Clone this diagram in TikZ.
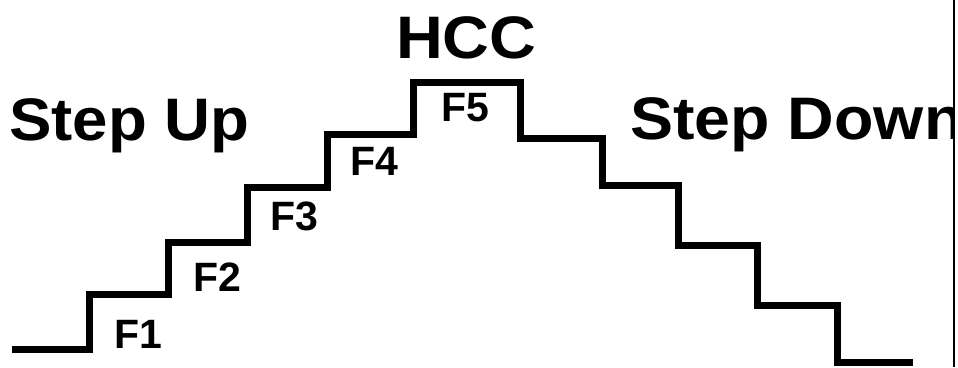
\documentclass[tikz,border=0pt]{standalone}
\usepackage{fontspec}
\setmainfont{Liberation Sans}[BoldFont={Liberation Sans Bold}]
\begin{document}
\begin{tikzpicture}[x=1pt,y=-1pt,
  stair/.style={line width=7pt,line join=miter,line cap=butt},
  biglabel/.style={font=\bfseries\fontsize{60}{66}\selectfont,inner sep=0pt,anchor=base west},
  flabel/.style={font=\bfseries\fontsize{41}{46}\selectfont,inner sep=0pt,anchor=center}]
\useasboundingbox (0,0) rectangle (958,367);
% stairs
\draw[stair] (12,349) -- (89,349) -- (89,294) -- (168,294) -- (168,242) -- (247,242)
  -- (247,187) -- (327,187) -- (327,134) -- (413,134) -- (413,82) -- (520,82)
  -- (520,138) -- (602,138) -- (602,185) -- (678,185) -- (678,245) -- (757,245)
  -- (757,305) -- (837,305) -- (837,362) -- (913,362);
% labels
\node[biglabel] (up) at (9,140) {\scalebox{1.06}[1]{Step Up}};
\node[biglabel] (hcc) at (396,58) {\scalebox{1.08}[1]{HCC}};
\node[biglabel] (down) at (630,139) {\scalebox{1.075}[1]{Step Down}};
\node[flabel] (f1) at (138,334) {F1};
\node[flabel] (f2) at (217,277) {F2};
\node[flabel] (f3) at (294,216) {F3};
\node[flabel] (f4) at (374,161) {F4};
\node[flabel] (f5) at (465,108) {F5};
% right border
\fill[white] (955,0) rectangle (958,367);
\draw[line width=1.6pt] (954,0) -- (954,367);
\end{tikzpicture}
\end{document}
